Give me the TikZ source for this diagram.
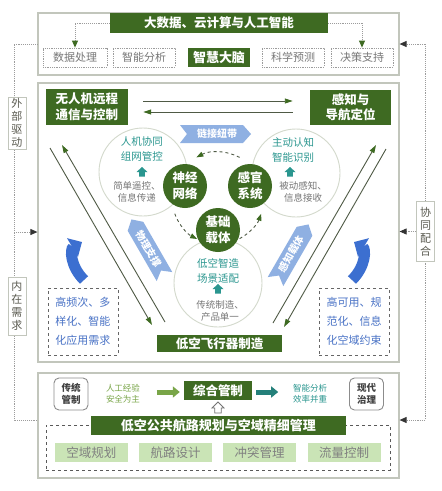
\documentclass[tikz,border=0pt]{standalone}
\usepackage{fontspec}
\setmainfont{Noto Sans CJK SC}
\usetikzlibrary{arrows.meta,calc}
\definecolor{dg}{HTML}{3E6A22}
\definecolor{framec}{HTML}{C2C6BC}
\definecolor{dotc}{HTML}{9C9C9C}
\definecolor{tealx}{HTML}{2A968F}
\definecolor{lblue}{HTML}{8FB0E2}
\definecolor{bblue}{HTML}{3C6FD0}
\definecolor{tblue}{HTML}{4A73C6}
\definecolor{lgreen}{HTML}{CAE4B6}
\definecolor{ggreen}{HTML}{79A548}
\definecolor{txtg}{HTML}{777777}
\definecolor{circc}{HTML}{D3D9CC}
\definecolor{linec}{HTML}{4F5A45}
\definecolor{labc}{HTML}{5A5A50}
\tikzset{
  panel/.style={draw=framec, line width=1.2pt, fill=white, inner sep=0pt},
  dgbox/.style={fill=dg, text=white, inner sep=0pt, align=center, font=\bfseries\fontsize{12.5}{15.5}\selectfont},
  subbox/.style={draw=dotc, densely dotted, line width=0.8pt, text=txtg, minimum width=62pt, minimum height=19pt, inner sep=0pt, font=\fontsize{11}{13}\selectfont},
  dotline/.style={draw=dotc, densely dotted, line width=0.9pt},
  ktip/.style={-{Triangle[length=7pt,width=6pt,color=black!80]}},
  gtip/.style={-{Triangle[length=7pt,width=6pt,color=dg]}},
  hline/.style={draw=linec, line width=0.9pt, -{Triangle[length=8pt,width=5pt,color=dg]}},
  bigc/.style={circle, draw=circc, line width=0.9pt, fill=white, minimum size=88pt, inner sep=0pt},
  dkc/.style={circle, fill=dg, text=white, minimum size=44pt, inner sep=0pt, align=center, font=\bfseries\fontsize{12.5}{16}\selectfont},
  tealt/.style={text=tealx, align=center, inner sep=0pt, font=\fontsize{10.5}{15}\selectfont},
  grayt/.style={text=txtg, align=center, inner sep=0pt, font=\fontsize{9.5}{12.5}\selectfont},
  cycl/.style={draw=linec, dashed, line width=0.9pt, -{Triangle[length=7pt,width=5pt,color=dg]}},
  dbox/.style={draw=black!60, dashed, line width=0.9pt, text=tblue, align=center, minimum width=70pt, minimum height=67pt, inner sep=0pt, font=\fontsize{11}{19}\selectfont},
  sidel/.style={draw=framec, fill=white, line width=0.9pt, text=labc, align=center, minimum width=18pt, inner sep=1pt, font=\fontsize{11}{13}\selectfont},
  roundl/.style={draw=black!45, rounded corners=5pt, line width=0.9pt, text=black!75, align=center, minimum width=34pt, minimum height=32pt, inner sep=0pt, font=\bfseries\fontsize{9.5}{12.5}\selectfont},
  smallt/.style={align=center, inner sep=0pt, font=\fontsize{8.5}{11}\selectfont},
  lgbox/.style={fill=lgreen, text=black!50, minimum width=73pt, minimum height=19pt, inner sep=0pt, font=\fontsize{12.5}{14}\selectfont},
  uparrow/.pic={\fill[tealx] (-2.8,4.5)--(-2.8,0)--(-5.5,0)--(0,-5)--(5.5,0)--(2.8,0)--(2.8,4.5)--cycle;}
}
\begin{document}
\begin{tikzpicture}[x=1pt,y=-1pt]
\fill[white] (0,0) rectangle (442,491);
\useasboundingbox (0,0) rectangle (442,491);

% panels
\node[panel, minimum width=361pt, minimum height=62pt] (toppanel) at (218.5,44) {};
\node[panel, minimum width=361pt, minimum height=279pt] (midpanel) at (218.5,222.5) {};
\node[panel, minimum width=361pt, minimum height=105pt] (botpanel) at (218.5,425.5) {};

% outer dotted connectors
\coordinate (L1) at (14,44);
\coordinate (L2) at (14,420);
\coordinate (L3) at (14,232);
\coordinate (R1) at (425,44);
\coordinate (R2) at (425,420);
\draw[dotline] (toppanel.west) -- (L1) -- (L2) -- (L2 -| botpanel.west);
\draw[dotline, ktip] (L3) -- (L3 -| midpanel.west);
\draw[dotline] (R1) -- (R2);
\draw[dotline, ktip] (R1) -- (R1 -| toppanel.east);
\draw[dotline, ktip] (R2) -- (R2 -| botpanel.east);
\node[sidel, minimum height=52pt] (ext) at (17,123) {外\\部\\驱\\动};
\node[sidel, minimum height=58pt] (inn) at (17,306) {内\\在\\需\\求};
\node[sidel, minimum height=60pt] (coop) at (425.5,231.5) {协\\同\\配\\合};
\draw[dotline, ktip] (coop.west) -- (coop.west -| midpanel.east);

% top panel
\node[dgbox, minimum width=218pt, minimum height=20pt] (ai) at (219,23) {大数据、云计算与人工智能};
\node[subbox, minimum width=64pt] (s1) at (75,57.5) {数据处理};
\node[subbox] (s2) at (144,57.5) {智能分析};
\node[dgbox, minimum width=62pt, minimum height=19pt, font=\bfseries\fontsize{13}{15}\selectfont] (brain) at (219,57.5) {智慧大脑};
\node[subbox] (s3) at (293,57.5) {科学预测};
\node[subbox] (s4) at (362,57.5) {决策支持};
\draw[dotline, gtip] (ai.west) -| (s1.north);
\draw[dotline, gtip] (ai.east) -| (s4.north);

% middle panel
\node[dgbox, minimum width=82pt, minimum height=36pt] (uav) at (87,107) {无人机远程\\通信与控制};
\node[dgbox, minimum width=81pt, minimum height=35pt] (nav) at (350.5,107.5) {感知与\\导航定位};
\draw[hline] ($(uav.east)+(15,-6)$) -- ($(nav.west)+(-17,-6.5)$);
\draw[hline] ($(nav.west)+(-17,4.5)$) -- ($(uav.east)+(15,5)$);

% link banner
\fill[lblue] (180,125) -- (243,125) -- (251,134) -- (243,143) -- (180,143) -- (187,134) -- cycle;
\node[text=white, inner sep=0pt, font=\bfseries\fontsize{10}{12}\selectfont] (link) at (217,134) {链接纽带};

% diagonal lines
\coordinate (la) at (50,148); \coordinate (lb) at (152,325);
\coordinate (lc) at (165,322); \coordinate (ld) at (62,145);
\coordinate (ra) at (273,323); \coordinate (rb) at (376,145);
\coordinate (rc) at (386,149); \coordinate (rd) at (284,327);
\draw[hline] (la) -- (lb);
\draw[hline] (lc) -- (ld);
\draw[hline] (ra) -- (rb);
\draw[hline] (rc) -- (rd);

% rotated banners
\begin{scope}[shift={(148,248)}, rotate=120]
  \fill[lblue] (-33,-9) -- (25,-9) -- (33,0) -- (25,9) -- (-33,9) -- (-26,0) -- cycle;
\end{scope}
\node[text=white, rotate=-60, inner sep=0pt, font=\bfseries\fontsize{10}{12}\selectfont] (phys) at (148.5,249) {物理支撑};
\begin{scope}[shift={(292,253)}, rotate=60]
  \fill[lblue] (-33,-9) -- (25,-9) -- (33,0) -- (25,9) -- (-33,9) -- (-26,0) -- cycle;
\end{scope}
\node[text=white, rotate=60, inner sep=0pt, font=\bfseries\fontsize{10}{12}\selectfont] (perc) at (291.5,254) {感知载体};

% blue curved arrows
\draw[line width=11pt, bblue, -{Triangle[length=11pt,width=21pt]}] (84,280) .. controls (70,266) and (70,249) .. (82,242);
\draw[line width=11pt, bblue, -{Triangle[length=11pt,width=21pt]}] (352,280) .. controls (366,266) and (366,249) .. (354,242);

% big circles
\node[bigc] (c1) at (143,172) {};
\node[bigc] (c2) at (296,173) {};
\node[bigc] (c3) at (218,283) {};

% cycle arcs
\coordinate (cyc) at (218,198);
\draw[cycl] ($(cyc)+(-62:46)$) arc[start angle=-62, end angle=-118, radius=46];
\draw[cycl] ($(cyc)+(-200:46)$) arc[start angle=-200, end angle=-243, radius=46];
\draw[cycl] ($(cyc)+(-298:46)$) arc[start angle=-298, end angle=-340, radius=46];

% small dark circles
\node[dkc] (nn) at (185,186) {神经\\网络};
\node[dkc] (sg) at (250,186) {感官\\系统};
\node[dkc] (jc) at (218,230) {基础\\载体};

% circle texts
\node[tealt] (c1a) at (142,149) {人机协同\\组网管控};
\pic at (142,172) {uparrow};
\node[grayt] (c1b) at (137,192) {简单遥控、\\信息传递};
\node[tealt] (c2a) at (293,150) {主动认知\\智能识别};
\pic at (290,172) {uparrow};
\node[grayt] (c2b) at (303,192) {被动感知、\\信息接收};
\node[tealt] (c3a) at (218,270.5) {低空智造\\场景适配};
\pic at (218,289) {uparrow};
\node[grayt] (c3b) at (220,311) {传统制造、\\产品单一};

% dashed boxes
\node[dbox] (need) at (83,321.5) {高频次、多\\样化、智能\\化应用需求};
\node[dbox] (cons) at (354,321.5) {高可用、规\\范化、信息\\化空域约束};

\node[dgbox, minimum width=125pt, minimum height=17pt] (mfg) at (219.5,343.5) {低空飞行器制造};

% bottom panel
\node[draw=black!65, dashed, line width=0.9pt, minimum width=344pt, minimum height=45pt, inner sep=0pt] (dash) at (218,447.5) {};
\node[roundl] (trad) at (71,394) {传统\\管制};
\node[smallt, text=ggreen] (exp) at (123,393.5) {人工经验\\安全为主};
\node[dgbox, minimum width=68pt, minimum height=19pt] (zh) at (218,390.5) {综合管制};
\draw[line width=5pt, ggreen, -{Triangle[length=7pt,width=11pt]}] ($(zh.west)+(-27,1.5)$) -- ($(zh.west)+(-4,1.5)$);
\draw[line width=5pt, tealx!85!black, -{Triangle[length=7pt,width=11pt]}] ($(zh.east)+(4,1.5)$) -- ($(zh.east)+(26,1.5)$);
\node[smallt, text=tealx] (ana) at (310,393.5) {智能分析\\效率并重};
\node[roundl] (mod) at (366.5,394) {现代\\治理};
\node[dgbox, minimum width=255pt, minimum height=19pt, font=\bfseries\fontsize{13}{15}\selectfont] (route) at (218.5,425.5) {低空公共航路规划与空域精细管理};
\draw[black!55, line width=0.8pt, fill=white] (214.8,413) -- (221.2,413) -- (221.2,408) -- (224,408) -- (218,402) -- (212,408) -- (214.8,408) -- cycle;
\node[lgbox] (g1) at (91.5,452.5) {空域规划};
\node[lgbox] (g2) at (175.5,452.5) {航路设计};
\node[lgbox] (g3) at (259.5,452.5) {冲突管理};
\node[lgbox] (g4) at (344,452.5) {流量控制};
\end{tikzpicture}
\end{document}
